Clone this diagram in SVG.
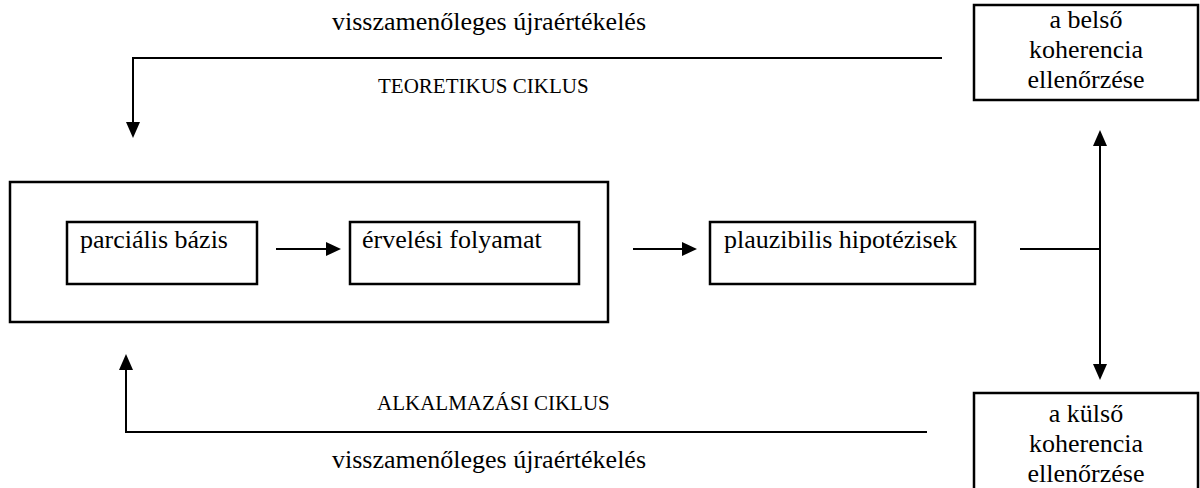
<svg xmlns="http://www.w3.org/2000/svg" width="1200" height="488" viewBox="0 0 1200 488">
<defs>
<style>
.box{fill:#fff;stroke:#000;stroke-width:2.5}
.ln{fill:none;stroke:#000;stroke-width:2}
.t{font-family:"Liberation Serif","Times New Roman",serif;font-size:26px;fill:#000}
.s{font-family:"Liberation Serif","Times New Roman",serif;font-size:21px;fill:#000}
.c{text-anchor:middle}
</style>
<marker id="ah" viewBox="0 0 10 10" refX="10" refY="5" markerWidth="7" markerHeight="7" markerUnits="userSpaceOnUse" orient="auto">
<path d="M0,0 L10,5 L0,10 Z" fill="#000"/>
</marker>
</defs>
<rect width="1200" height="488" fill="#fff"/>
<g id="labels">
<text class="t" x="332" y="30">visszamenőleges újraértékelés</text>
<text class="s" x="378" y="93">TEORETIKUS CIKLUS</text>
<text class="s" x="377" y="410">ALKALMAZÁSI CIKLUS</text>
<text class="t" x="332" y="468">visszamenőleges újraértékelés</text>
</g>
<g id="container">
<rect class="box" x="10" y="182" width="598" height="140"/>
</g>
<g id="parcialis">
<rect class="box" x="67" y="222" width="190" height="62"/>
<text class="t" x="80" y="248">parciális bázis</text>
</g>
<g id="erveles">
<rect class="box" x="350" y="222" width="229" height="62"/>
<text class="t" x="362" y="248">érvelési folyamat</text>
</g>
<g id="plauzibilis">
<rect class="box" x="710" y="222" width="265" height="62"/>
<text class="t" x="724" y="248">plauzibilis hipotézisek</text>
</g>
<g id="belso">
<rect class="box" x="974" y="5" width="224" height="95"/>
<text class="t c" x="1086" y="28">a belső</text>
<text class="t c" x="1086" y="58">koherencia</text>
<text class="t c" x="1086" y="88">ellenőrzése</text>
</g>
<g id="kulso">
<rect class="box" x="974" y="393" width="224" height="100"/>
<text class="t c" x="1086" y="422">a külső</text>
<text class="t c" x="1086" y="452">koherencia</text>
<text class="t c" x="1086" y="482">ellenőrzése</text>
</g>
<g id="connectors">
<path class="ln" d="M942,58 H133 V130"/>
<path d="M126,122 L140,122 L133,138 Z" fill="#000"/>
<path class="ln" d="M927,432 H126 V362"/>
<path d="M119,370 L133,370 L126,354 Z" fill="#000"/>
<path class="ln" d="M276,249 H330"/>
<path d="M326,242 L341,249 L326,256 Z" fill="#000"/>
<path class="ln" d="M633,249 H688"/>
<path d="M682,242 L697,249 L682,256 Z" fill="#000"/>
<path class="ln" d="M1020,249 H1100"/>
<path class="ln" d="M1100,249 V138"/>
<path d="M1093,146 L1107,146 L1100,130 Z" fill="#000"/>
<path class="ln" d="M1100,249 V372"/>
<path d="M1093,364 L1107,364 L1100,380 Z" fill="#000"/>
</g>
</svg>
